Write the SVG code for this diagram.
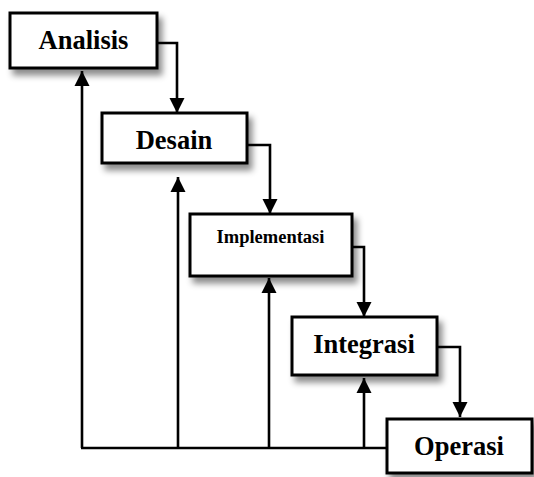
<svg xmlns="http://www.w3.org/2000/svg" width="534" height="477" viewBox="0 0 534 477">
<style>
.box{fill:#fff;stroke:#000;stroke-width:3;filter:url(#sh)}
.lbl{font-family:"Liberation Serif","Times New Roman",serif;font-weight:bold;font-size:26.5px;fill:#000;text-anchor:middle}
.small{font-size:18.5px}
.ln{fill:none;stroke:#000;stroke-width:2.6;marker-end:url(#ah)}
.pl{fill:none;stroke:#000;stroke-width:2.6}
</style>
<defs>
<filter id="sh" x="-20%" y="-20%" width="150%" height="160%">
<feDropShadow dx="4" dy="6" stdDeviation="3" flood-color="#000" flood-opacity="0.45"/>
</filter>
<marker id="ah" markerUnits="userSpaceOnUse" markerWidth="16" markerHeight="16" viewBox="0 0 16 16" refX="15" refY="8" orient="auto">
<polygon points="0,0.5 15,8 0,15.5" fill="#000"/>
</marker>
</defs>
<rect width="534" height="477" fill="#fff"/>
<g id="connectors">
<path class="ln" d="M157,43 H177 V113"/>
<path class="ln" d="M247,145 H270 V214"/>
<path class="ln" d="M352,247 H364 V317"/>
<path class="ln" d="M437,347 H460 V417"/>
<path class="pl" d="M81,448 H388"/>
<path class="ln" d="M82,448 V71"/>
<path class="ln" d="M178,448 V177"/>
<path class="ln" d="M269,448 V278"/>
<path class="ln" d="M364,448 V378"/>
</g>
<g id="analisis">
<rect class="box" x="10" y="13" width="147" height="55"/>
<text class="lbl" x="83.5" y="49">Analisis</text>
</g>
<g id="desain">
<rect class="box" x="102" y="113" width="145" height="50"/>
<text class="lbl" x="174" y="149">Desain</text>
</g>
<g id="implementasi">
<rect class="box" x="190" y="214" width="162" height="62"/>
<text class="lbl small" x="270.5" y="243">Implementasi</text>
</g>
<g id="integrasi">
<rect class="box" x="292" y="317" width="145" height="58"/>
<text class="lbl" x="364" y="353">Integrasi</text>
</g>
<g id="operasi">
<rect class="box" x="387" y="419" width="145" height="54"/>
<text class="lbl" x="459" y="455">Operasi</text>
</g>
</svg>
